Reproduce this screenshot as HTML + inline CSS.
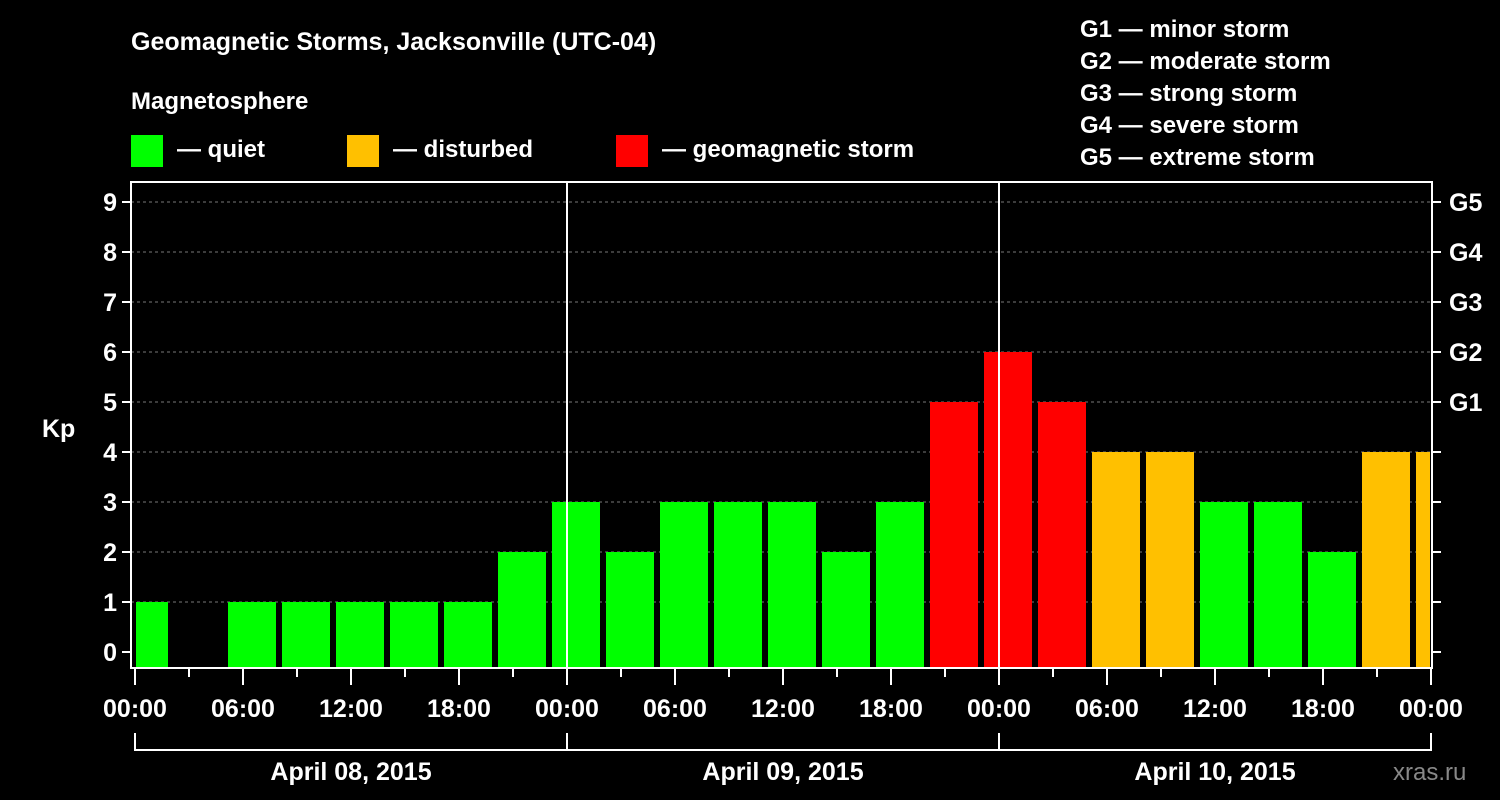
<!DOCTYPE html>
<html><head><meta charset="utf-8"><style>
body{margin:0;background:#000;}
svg{display:block;font-family:"Liberation Sans",Arial,sans-serif;font-weight:bold;}
</style></head><body>
<svg width="1500" height="800" xmlns="http://www.w3.org/2000/svg">
<g id="static" fill="#fff">
<text x="131" y="50" font-size="25">Geomagnetic Storms, Jacksonville (UTC-04)</text>
<text x="131" y="109" font-size="24">Magnetosphere</text>
<rect x="131" y="135" width="32" height="32" fill="#00ff00"/>
<text x="177" y="157" font-size="24">— quiet</text>
<rect x="347" y="135" width="32" height="32" fill="#ffc000"/>
<text x="393" y="157" font-size="24">— disturbed</text>
<rect x="616" y="135" width="32" height="32" fill="#ff0000"/>
<text x="662" y="157" font-size="24">— geomagnetic storm</text>
<g font-size="24">
<text x="1080" y="37">G1 — minor storm</text>
<text x="1080" y="69">G2 — moderate storm</text>
<text x="1080" y="101">G3 — strong storm</text>
<text x="1080" y="133">G4 — severe storm</text>
<text x="1080" y="165">G5 — extreme storm</text>
</g>
<text x="42" y="437" font-size="25">Kp</text>
<text x="1393" y="780" font-size="24" fill="#888" font-weight="normal">xras.ru</text>
</g>
<g id="plot"></g>
</svg>
<script>
const kpValues=[1,0,1,1,1,1,1,2,3,2,3,3,3,2,3,5,6,5,4,4,3,3,2,4,4];
const binStartHours=[-1,2,5,8,11,14,17,20,23,26,29,32,35,38,41,44,47,50,53,56,59,62,65,68,71];
const yTicks=[0,1,2,3,4,5,6,7,8,9];
const gLabels=["G1","G2","G3","G4","G5"];
const gLevels=[5,6,7,8,9];
const xTickLabels=["00:00","06:00","12:00","18:00","00:00","06:00","12:00","18:00","00:00","06:00","12:00","18:00","00:00"];
const dayLabels=["April 08, 2015","April 09, 2015","April 10, 2015"];

const NS="http://www.w3.org/2000/svg";
const g=document.getElementById('plot');
const X0=135,PXH=18,L=131,R=1432,T=182,B=668;
const xs=h=>X0+h*PXH;
const ys=v=>652-v*50;
function mk(tag,attrs,parent){const e=document.createElementNS(NS,tag);for(const k in attrs)e.setAttribute(k,attrs[k]);(parent||g).appendChild(e);return e;}

// grid
yTicks.forEach(v=>{
  if(v>0){const l=mk('line',{x1:L,x2:R,y1:ys(v),y2:ys(v),stroke:'#777','stroke-dasharray':'3,3','stroke-width':1});
  
  }
  const t1=mk('line',{x1:L-9,x2:L,y1:ys(v),y2:ys(v),stroke:'#fff','stroke-width':2});
  
  
  const t2=mk('line',{x1:R,x2:R+9,y1:ys(v),y2:ys(v),stroke:'#fff','stroke-width':2});
  
  
  const tx=mk('text',{x:L-14,y:ys(v)+9,'text-anchor':'end','font-size':25,fill:'#fff'});
  tx.textContent=v;
  
  
});
gLevels.forEach((v,i)=>{
  const tx=mk('text',{x:R+17,y:ys(v)+9,'font-size':25,fill:'#fff'});
  tx.textContent=gLabels[i];
  
  
});
// bars
kpValues.forEach((v,i)=>{
  let x1=Math.max(xs(binStartHours[i])+3,X0+1),x2=Math.min(xs(binStartHours[i]+3)-3,1430);
  if(v<=0)return;
  const c=v>=5?'#ff0000':(v>=4?'#ffc000':'#00ff00');
  const r=mk('rect',{x:x1,y:ys(v),width:x2-x1,height:B-ys(v),fill:c});
  
  
});
// frame
const fr=mk('rect',{x:L,y:T,width:R-L,height:B-T,fill:'none',stroke:'#fff','stroke-width':2});


[24,48].forEach(h=>{
  const l=mk('line',{x1:xs(h),x2:xs(h),y1:T,y2:B,stroke:'#fff','stroke-width':2});
  
  
});
// x ticks
for(let h=0;h<=72;h+=3){
  const major=h%6===0;
  const l=mk('line',{x1:xs(h),x2:xs(h),y1:B,y2:B+(major?17:9),stroke:'#fff','stroke-width':2});
  
  
}
xTickLabels.forEach((s,i)=>{
  const t=mk('text',{x:xs(i*6),y:717,'text-anchor':'middle','font-size':25,fill:'#fff'});
  t.textContent=s;
  
  
});
// day brackets
dayLabels.forEach((s,i)=>{
  const a=xs(i*24),b=xs(i*24+24);
  const p=mk('path',{d:`M${a},733 V750 H${b} V733`,fill:'none',stroke:'#fff','stroke-width':2});
  
  
  const t=mk('text',{x:(a+b)/2,y:780,'text-anchor':'middle','font-size':25,fill:'#fff'});
  t.textContent=s;
  
  
});
</script>
</body></html>
